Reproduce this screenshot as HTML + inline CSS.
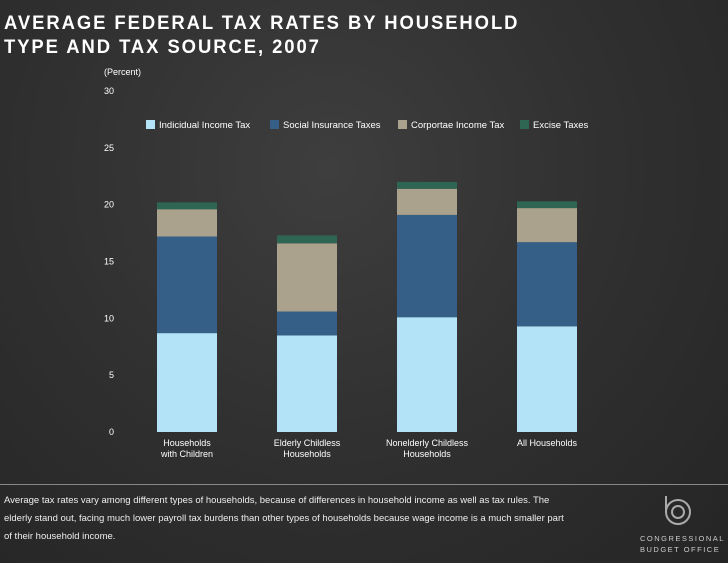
<!DOCTYPE html>
<html><head><meta charset="utf-8"><style>
html,body{margin:0;padding:0}
body{width:728px;height:563px;overflow:hidden;background:radial-gradient(ellipse at 45% 30%,#3e3e3e 0%,#303030 50%,#252525 100%);font-family:"Liberation Sans",sans-serif;color:#fff;position:relative}
.t{position:absolute;left:4px;top:12px;font-size:19px;letter-spacing:2px;line-height:24px;color:#fff;font-weight:bold;transform:scaleX(0.97);transform-origin:left}
svg{position:absolute;left:0;top:0}
.foot{position:absolute;left:4px;top:492px;width:640px;font-size:9.5px;line-height:18px;color:#eee;white-space:nowrap}
.hr{position:absolute;left:0;top:484px;width:728px;height:1px;background:#888}
.logo{position:absolute;left:640px;top:533px;font-size:7.5px;letter-spacing:1.5px;line-height:11px;color:#ccc}
</style></head><body>
<div class="t">AVERAGE FEDERAL TAX RATES BY HOUSEHOLD<br>TYPE AND TAX SOURCE, 2007</div>
<svg id="c" width="728" height="563"></svg>
<div class="hr"></div>
<div class="foot">Average tax rates vary among different types of households, because of differences in household income as well as tax rules. The<br>elderly stand out, facing much lower payroll tax burdens than other types of households because wage income is a much smaller part<br>of their household income.</div>
<svg width="728" height="563" style="pointer-events:none"><circle cx="678" cy="512" r="12" fill="none" stroke="#aaa" stroke-width="2"/><circle cx="678" cy="512" r="6" fill="none" stroke="#aaa" stroke-width="2"/><line x1="666" y1="496" x2="666" y2="512" stroke="#aaa" stroke-width="2"/></svg>
<div class="logo">CONGRESSIONAL<br>BUDGET OFFICE</div>
<script>
const categories=[["Households","with Children"],["Elderly Childless","Households"],["Nonelderly Childless","Households"],["All Households"]];
const seriesNames=["Indicidual Income Tax","Social Insurance Taxes","Corportae Income Tax","Excise Taxes"];
const individual=[8.7,8.5,10.1,9.3];
const social=[8.5,2.1,9.0,7.4];
const corporate=[2.4,6.0,2.3,3.0];
const excise=[0.6,0.7,0.6,0.6];
const ticks=[0,5,10,15,20,25,30];
const colors=["#b3e3f6","#355f86","#aaa28c","#2e6553"];
const svg=document.getElementById('c');const NS="http://www.w3.org/2000/svg";
function y(v){return 432-v*(341/30);}
function x(i){return 157+i*120;}
function mk(t,a,txt){const e=document.createElementNS(NS,t);for(const k in a)e.setAttribute(k,a[k]);if(txt!==undefined)e.textContent=txt;svg.appendChild(e);return e;}
let e=mk('text',{x:104,y:75,fill:'#fff','font-size':9},'(Percent)');

ticks.forEach(t=>{const el=mk('text',{x:114,y:y(t)+3,fill:'#fff','font-size':9,'text-anchor':'end'},t);
});
const series=[individual,social,corporate,excise];
categories.forEach((c,i)=>{let base=0;series.forEach((s,k)=>{const r=mk('rect',{x:x(i),y:y(base+s[i]),width:60,height:y(base)-y(base+s[i]),fill:colors[k]});
base+=s[i];});
c.forEach((l,j)=>{const el=mk('text',{x:x(i)+30,y:446+j*11,fill:'#fff','font-size':9,'text-anchor':'middle'},l);
});});
const lx=[146,270,398,520];
seriesNames.forEach((n,k)=>{const r=mk('rect',{x:lx[k],y:120,width:9,height:9,fill:colors[k]});

const el=mk('text',{x:lx[k]+13,y:128,fill:'#fff','font-size':9.5},n);
});
</script>
</body></html>
